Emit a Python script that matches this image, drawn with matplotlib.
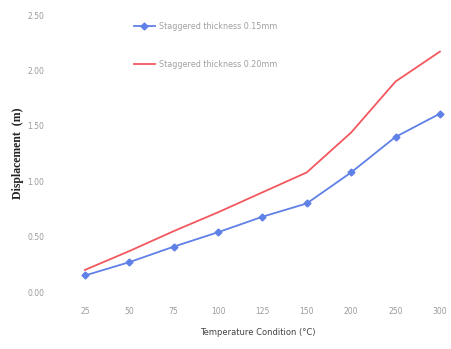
import matplotlib
matplotlib.use("Agg")
import matplotlib.pyplot as plt

categories = ["25", "50", "75", "100", "125", "150", "200", "250", "300"]
thick_015 = [0.15, 0.27, 0.41, 0.54, 0.68, 0.80, 1.08, 1.40, 1.61]
thick_020 = [0.20, 0.37, 0.55, 0.72, 0.90, 1.08, 1.44, 1.90, 2.17]
yticks = [0.0, 0.5, 1.0, 1.5, 2.0, 2.5]
ytick_labels = ["0.00", "0.50", "1.00", "1.50", "2.00", "2.50"]

fig = plt.figure(figsize=(4.51, 3.49), dpi=100)
ax = fig.add_axes([0.144, 0.163, 0.856, 0.794])
x = list(range(len(categories)))
ax.plot(x, thick_015, color="#5f80e6", marker="D", markersize=3.5, linewidth=1.3,
        label="Staggered thickness 0.15mm")
ax.plot(x, thick_020, color="#f2585e", linewidth=1.3,
        label="Staggered thickness 0.20mm")
ax.set_xlim(-0.45, 8.25)
ax.set_ylim(0, 2.5)
ax.set_xticks(x)
ax.set_xticklabels(categories)
ax.set_yticks(yticks)
ax.set_yticklabels(ytick_labels)
for s in ax.spines.values():
    s.set_visible(False)
ax.tick_params(length=0, labelsize=5.5, labelcolor="#9a9a9a")
ax.tick_params(axis="y", pad=15)
ax.tick_params(axis="x", pad=11)
ax.set_ylabel("Displacement  (m)", fontsize=8.5, fontweight="bold",
              family="Liberation Serif", labelpad=2, color="#222222")
ax.set_xlabel("Temperature Condition (°C)", fontsize=6, color="#444444", labelpad=8)
leg = ax.legend(loc="upper left", bbox_to_anchor=(0.16, 1.0), frameon=False,
                fontsize=5.8, labelspacing=3.6, handlelength=2.6, handletextpad=0.5,
                labelcolor="#a0a0a0")
plt.savefig("out.png", dpi=100)
